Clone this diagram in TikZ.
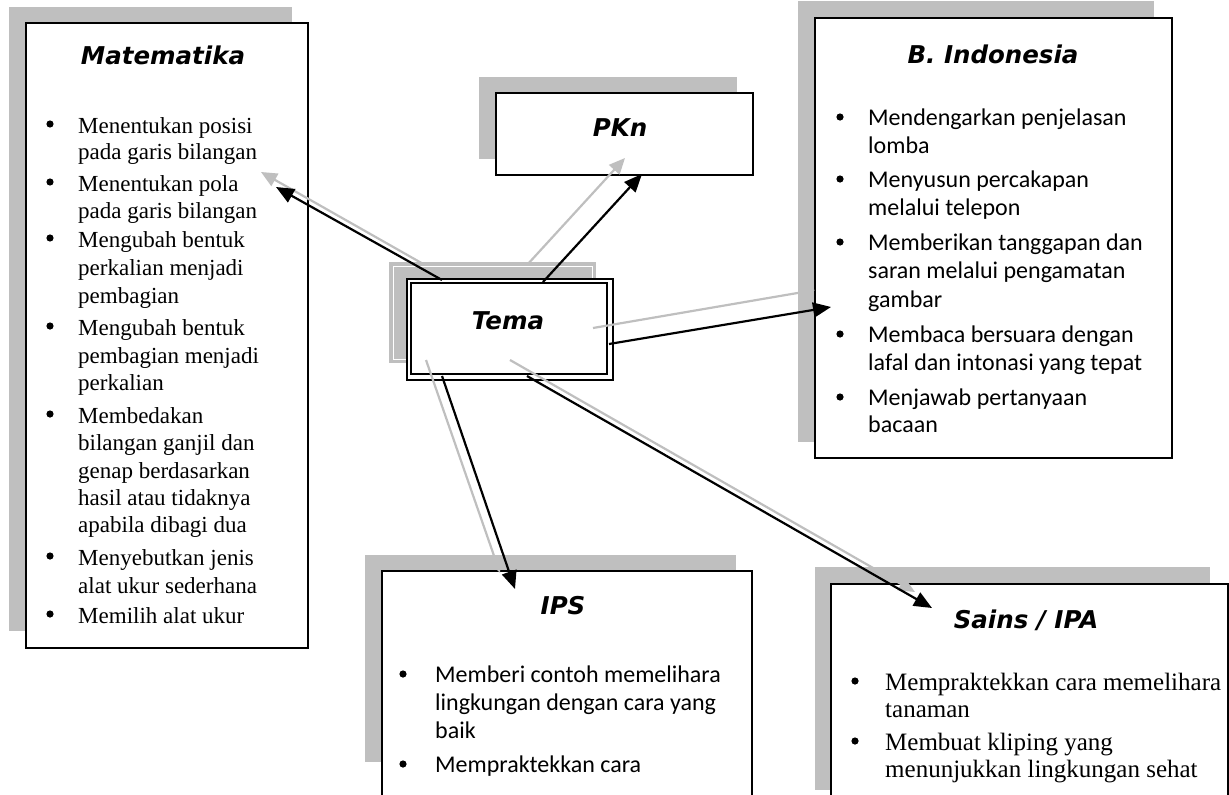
\documentclass[tikz,border=0pt]{standalone}
\usepackage{fontspec}
\setmainfont{Liberation Serif}
\newfontfamily\calfont{Carlito}
\newfontfamily\ttlfont{DejaVu Sans}
\usetikzlibrary{arrows.meta}
\definecolor{shade}{RGB}{191,191,191}
\begin{document}
\begin{tikzpicture}[x=1pt,y=-1pt,
  shadowfill/.style={fill=shade,draw=none},
  mainbox/.style={fill=white,draw=black,line width=1.5pt,anchor=north west,inner sep=0pt},
  ttl/.style={font=\ttlfont\bfseries\itshape\fontsize{24.5}{28}\selectfont,anchor=base,inner sep=0pt},
  serifline/.style={font=\fontsize{23}{27}\selectfont,anchor=base west,inner sep=0pt},
  sainsline/.style={font=\fontsize{25}{28}\selectfont,anchor=base west,inner sep=0pt},
  calline/.style={font=\calfont\fontsize{24}{28}\selectfont,anchor=base west,inner sep=0pt},
  blk/.style={draw=black,line width=2.2pt,-{Triangle[length=18pt,width=15pt]}},
  gry/.style={draw=shade,line width=2.2pt,-{Triangle[length=16pt,width=14pt]}},
]
\useasboundingbox (0,0) rectangle (1229,795);
\clip (0,0) rectangle (1229,795);

% ---------- Matematika ----------
\fill[shadowfill] (9,7) rectangle (292,631);
\node[mainbox,minimum width=282,minimum height=625] (mat) at (25,22) {};
\node[ttl] (matT) at (163,64) {Matematika};
\foreach \yy/\tx [count=\i] in {133/Menentukan posisi,159/pada garis bilangan,
  191/Menentukan pola,218/pada garis bilangan,
  247/Mengubah bentuk,275/perkalian menjadi,303/pembagian,
  335/Mengubah bentuk,363/pembagian menjadi,390/perkalian,
  423/Membedakan,450/bilangan ganjil dan,478/genap berdasarkan,505/hasil atau tidaknya,532/apabila dibagi dua,
  565/Menyebutkan jenis,593/alat ukur sederhana,
  623/Memilih alat ukur}
  \node[serifline] (m\i) at (78,\yy) {\tx};
\foreach \yy in {133,191,247,335,423,565,623}
  \fill (50,\yy-9) circle (3.6pt);

% ---------- PKn ----------
\fill[shadowfill] (479,77) rectangle (737,159);
\node[mainbox,minimum width=257,minimum height=82] (pkn) at (495,92) {};
\node[ttl] (pknT) at (620,136) {PKn};

% ---------- B. Indonesia ----------
\fill[shadowfill] (798,1) rectangle (1154,442);
\node[mainbox,minimum width=357,minimum height=440] (bind) at (814,17) {};
\node[ttl] (bindT) at (993,63) {B. Indonesia};
\foreach \yy/\tx [count=\i] in {125/Mendengarkan penjelasan,153/lomba,
  187/Menyusun percakapan,215/melalui telepon,
  250/Memberikan tanggapan dan,278/saran melalui pengamatan,307/gambar,
  342/Membaca bersuara dengan,370/lafal dan intonasi yang tepat,
  405/Menjawab pertanyaan,432/bacaan}
  \node[calline] (b\i) at (868,\yy) {\tx};
\foreach \yy in {125,187,250,342,405}
  \fill (840,\yy-8) circle (3.6pt);

% ---------- IPS ----------
\fill[shadowfill] (365,555) rectangle (736,762);
\node[mainbox,minimum width=370,minimum height=240] (ips) at (381,570) {};
\node[ttl] (ipsT) at (563,614) {IPS};
\foreach \yy/\tx [count=\i] in {682/Memberi contoh memelihara,710/lingkungan dengan cara yang,738/baik,
  772/Mempraktekkan cara}
  \node[calline] (i\i) at (435,\yy) {\tx};
\foreach \yy in {682,772}
  \fill (403,\yy-8) circle (3.6pt);

% ---------- Sains / IPA ----------
\fill[shadowfill] (815,567) rectangle (1210,790);
\node[mainbox,minimum width=397,minimum height=240] (ipa) at (830,583) {};
\node[ttl] (ipaT) at (1026,628) {Sains / IPA};
\foreach \yy/\tx [count=\i] in {690/Mempraktekkan cara memelihara,717/tanaman,
  750/Membuat kliping yang,777/menunjukkan lingkungan sehat}
  \node[sainsline] (s\i) at (885,\yy) {\tx};
\foreach \yy in {690,750}
  \fill (855,\yy-9) circle (3.6pt);

% ---------- Tema ----------
\fill[shadowfill] (389,262) rectangle (596,363);
\draw[white,line width=0.8pt] (393,266) rectangle (592,359);
\node[mainbox,line width=2pt,minimum width=206,minimum height=101] (tema) at (406,278) {};
\draw[line width=1.5pt] (411,283) rectangle (607,374);
\node[ttl] (temaT) at (508,329) {Tema};

% ---------- connector end points ----------
\coordinate (gMa) at (425,265); \coordinate (gMb) at (261,172);
\coordinate (kMa) at (442,280); \coordinate (kMb) at (276,187);
\coordinate (gPa) at (527,265); \coordinate (gPb) at (625,158);
\coordinate (kPa) at (543,282); \coordinate (kPb) at (642,174);
\coordinate (gBa) at (593,328); \coordinate (gBb) at (815,290);
\coordinate (kBa) at (609,344); \coordinate (kBb) at (831,307);
\coordinate (gIa) at (426,360); \coordinate (gIb) at (500,573);
\coordinate (kIa) at (442,376); \coordinate (kIb) at (515,589);
\coordinate (gSa) at (510,360); \coordinate (gSb) at (915,592);
\coordinate (kSa) at (527,376); \coordinate (kSb) at (932,608);

% ---------- connectors ----------
\draw[gry] (gMa) -- (gMb);
\draw[gry] (gPa) -- (gPb);
\draw[gry] (gBa) -- (gBb);
\draw[gry] (gIa) -- (gIb);
\draw[gry] (gSa) -- (gSb);
\draw[blk] (kMa) -- (kMb);
\draw[blk] (kPa) -- (kPb);
\draw[blk] (kBa) -- (kBb);
\draw[blk] (kIa) -- (kIb);
\draw[blk] (kSa) -- (kSb);
\end{tikzpicture}
\end{document}
